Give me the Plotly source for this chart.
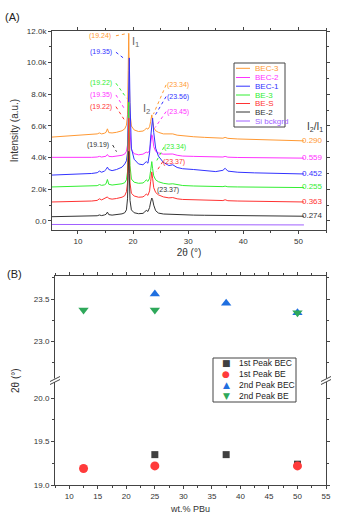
import plotly.graph_objects as go

# ---------------- Panel A data (XRD patterns, counts) ----------------
two_theta = [5.3, 7, 9, 11, 12.5, 13.5, 13.9, 14.3, 14.8, 15.1, 15.35, 15.6, 16.2, 17, 18, 18.5,
             18.8, 19.0, 19.12, 19.22, 19.32, 19.45, 19.7, 20.2, 21, 21.8, 22.1, 22.4, 22.7, 23.0,
             23.2, 23.4, 23.55, 23.75, 24.1, 24.6, 25.5, 26.5, 27.2, 28, 29, 31, 33, 35, 36.3,
             36.7, 37.2, 39, 42, 45, 48, 51]

bec3 = [5300, 5340, 5380, 5420, 5450, 5500, 5560, 5500, 5540, 5600, 5820, 5580, 5560, 5600, 5700, 5820,
        6050, 6700, 9500, 11850, 9000, 6800, 6000, 5750, 5650, 5680, 5750, 5850, 5800, 5950,
        6300, 6700, 6300, 5900, 5700, 5600, 5500, 5480, 5500, 5420, 5380, 5320, 5280, 5240, 5230,
        5280, 5220, 5180, 5140, 5110, 5080, 5060]
bec2 = [4020, 4010, 4000, 4010, 4020, 4040, 4080, 4040, 4060, 4090, 4200, 4080, 4060, 4080, 4150, 4230,
        4400, 4800, 6000, 6900, 7300, 5600, 4500, 4250, 4180, 4220, 4280, 4350, 4300, 4450,
        4900, 5450, 5300, 4700, 4400, 4300, 4220, 4200, 4230, 4150, 4100, 4080, 4060, 4040, 4040,
        4080, 4030, 4010, 4000, 3990, 3980, 3970]
bec1 = [2900, 2920, 2940, 2960, 3000, 3050, 3150, 3080, 3150, 3250, 3400, 3250, 3180, 3250, 3400, 3600,
        3800, 4300, 6500, 9000, 10300, 7500, 4600, 3900, 3600, 3550, 3650, 3750, 3650, 4300,
        5300, 6200, 6500, 5600, 4600, 4100, 3700, 3500, 3550, 3380, 3300, 3250, 3180, 3120, 3200,
        3330, 3150, 3080, 3040, 3010, 2990, 2970]
be3 = [2150, 2160, 2170, 2180, 2200, 2230, 2300, 2250, 2280, 2350, 2620, 2320, 2270, 2300, 2350, 2420,
       2600, 3100, 5500, 7500, 5800, 3500, 2650, 2450, 2380, 2400, 2480, 2600, 2500, 2700,
       3200, 3750, 3300, 2850, 2600, 2480, 2380, 2330, 2350, 2280, 2240, 2210, 2190, 2170, 2170,
       2200, 2160, 2150, 2140, 2130, 2120, 2110]
bes = [1200, 1210, 1220, 1240, 1260, 1300, 1400, 1330, 1400, 1450, 1520, 1420, 1380, 1420, 1500, 1600,
       1850, 2400, 4800, 6500, 4500, 2400, 1750, 1580, 1500, 1520, 1600, 1700, 1620, 1900,
       2500, 3100, 2700, 2100, 1800, 1650, 1520, 1460, 1480, 1400, 1360, 1330, 1300, 1280, 1290,
       1340, 1280, 1260, 1240, 1230, 1220, 1200]
be2 = [270, 280, 290, 300, 310, 330, 380, 340, 380, 420, 560, 400, 370, 390, 450, 520,
       700, 1400, 3500, 4400, 3000, 1300, 700, 520, 460, 480, 560, 680, 600, 850,
       1200, 1450, 1350, 1000, 650, 500, 440, 420, 450, 400, 380, 370, 360, 350, 350,
       380, 345, 340, 330, 320, 310, 300]
si_x = [5.3, 15, 25, 35, 51]
si_y = [-220, -230, -235, -240, -250]

series_names = ["BEC-3", "BEC-2", "BEC-1", "BE-3", "BE-S", "BE-2", "Si bckgrd"]
series_colors = ["#FF9933", "#FF33FF", "#3333FF", "#33EE33", "#FF3333", "#333333", "#A060FF"]
ratio_labels = ["0.290", "0.559", "0.452", "0.255", "0.363", "0.274"]

# peak label annotations: text, colour index, label x, label y, leader end x, leader end y, leader start x
peak1_labels = [("(19.24)", 0, 14.0, 11700, 19.05, 11850, 16.9),
                ("(19.35)", 2, 14.2, 10660, 18.3, 10280, 16.9),
                ("(19.22)", 3, 14.2, 8700, 18.85, 7750, 16.9),
                ("(19.35)", 1, 14.2, 7960, 18.6, 7000, 16.9),
                ("(19.22)", 4, 14.2, 7220, 18.4, 6400, 16.9),
                ("(19.19)", 5, 13.6, 4800, 17.0, 4380, 16.3)]
peak2_labels = [("(23.34)", 0, 28.1, 8600, 23.7, 6750, 26.0),
                ("(23.56)", 2, 28.1, 7860, 23.8, 6550, 26.0),
                ("(23.45)", 1, 28.1, 6910, 24.0, 5900, 26.0),
                ("(23.34)", 3, 27.6, 4660, 24.2, 3750, 25.6),
                ("(23.37)", 4, 27.4, 3750, 24.2, 3100, 25.4),
                ("(23.37)", 5, 26.3, 1960, None, None, None)]

# ---------------- Panel B data ----------------
peak1_bec_x = [25, 37.5, 50]
peak1_bec_y = [19.35, 19.35, 19.24]
peak1_be_x = [12.5, 25, 50]
peak1_be_y = [19.19, 19.22, 19.22]
peak2_bec_x = [25, 37.5, 50]
peak2_bec_y = [23.56, 23.45, 23.34]
peak2_be_x = [12.5, 25, 50]
peak2_be_y = [23.37, 23.37, 23.34]

FONT = "Liberation Sans, Arial, sans-serif"
W, H = 344, 527
ML, MR, MT, MB = 52, 18, 31, 42
PW, PH = W - ML - MR, H - MT - MB


def px(x):
    return (x - ML) / PW


def py(y):
    return (H - MB - y) / PH


fig = go.Figure()

ys = [bec3, bec2, bec1, be3, bes, be2]
for name, col, y in zip(series_names[:6], series_colors[:6], ys):
    fig.add_trace(go.Scatter(x=two_theta, y=y, mode="lines", name=name,
                             line=dict(color=col, width=1), xaxis="x", yaxis="y", showlegend=False))
fig.add_trace(go.Scatter(x=si_x, y=si_y, mode="lines", name=series_names[6],
                         line=dict(color=series_colors[6], width=1), xaxis="x", yaxis="y", showlegend=False))

# Panel B traces
fig.add_trace(go.Scatter(x=peak1_bec_x, y=peak1_bec_y, mode="markers", name="1st Peak BEC",
                         marker=dict(symbol="square", size=7, color="#404040"),
                         xaxis="x2", yaxis="y2", showlegend=False))
fig.add_trace(go.Scatter(x=peak1_be_x, y=peak1_be_y, mode="markers", name="1st Peak BE",
                         marker=dict(symbol="circle", size=9, color="#FF3B3B"),
                         xaxis="x2", yaxis="y2", showlegend=False))
fig.add_trace(go.Scatter(x=peak2_bec_x, y=peak2_bec_y, mode="markers", name="2nd Peak BEC",
                         marker=dict(symbol="triangle-up", size=9, color="#1F6FE0"),
                         xaxis="x3", yaxis="y3", showlegend=False))
fig.add_trace(go.Scatter(x=peak2_be_x, y=peak2_be_y, mode="markers", name="2nd Peak BE",
                         marker=dict(symbol="triangle-down", size=9, color="#2EA85A"),
                         xaxis="x3", yaxis="y3", showlegend=False))

ax_common = dict(showline=True, linecolor="#444", linewidth=1, ticks="outside", ticklen=3,
                 tickcolor="#444", showgrid=False, zeroline=False,
                 tickfont=dict(family=FONT, size=8, color="#333"))

domA = [py(230), 1.0]
domB_low = [0.0, py(380)]
domB_up = [py(380), py(276)]

fig.update_layout(
    width=W, height=H, margin=dict(l=ML, r=MR, t=MT, b=MB),
    paper_bgcolor="white", plot_bgcolor="white", showlegend=False,
    font=dict(family=FONT, color="#333"),
    xaxis=dict(**ax_common, domain=[0, 1], anchor="y", range=[5.3, 55], tickvals=[10, 20, 30, 40, 50],
               mirror="ticks", minor=dict(ticks="outside", dtick=5, tick0=0, ticklen=2, tickcolor="#444"),
               title=dict(text="2θ (°)", font=dict(family=FONT, size=10, color="#333"), standoff=4)),
    yaxis=dict(**ax_common, domain=domA, anchor="x", range=[-570, 12000],
               tickvals=[0, 2000, 4000, 6000, 8000, 10000, 12000],
               ticktext=["0.0", "2.0k", "4.0k", "6.0k", "8.0k", "10.0k", "12.0k"],
               mirror="ticks", minor=dict(ticks="outside", dtick=1000, tick0=0, ticklen=2, tickcolor="#444"),
               title=dict(text="Intensity (a.u.)", font=dict(family=FONT, size=10, color="#333"), standoff=6)),
    xaxis2=dict(**ax_common, domain=[px(55), 1], anchor="y2", range=[7.5, 55], dtick=5, tick0=0,
                minor=dict(ticks="outside", dtick=2.5, tick0=0, ticklen=2, tickcolor="#444"),
                title=dict(text="wt.% PBu", font=dict(family=FONT, size=9, color="#333"), standoff=6)),
    xaxis3=dict(**ax_common, domain=[px(55), 1], anchor="y3", side="top", range=[7.5, 55], dtick=5, tick0=0,
                showticklabels=False,
                minor=dict(ticks="outside", dtick=2.5, tick0=0, ticklen=2, tickcolor="#444")),
    yaxis2=dict(**ax_common, domain=domB_low, anchor="x2", range=[19.0, 20.21], tickvals=[19.0, 19.5, 20.0],
                ticktext=["19.0", "19.5", "20.0"], mirror="ticks",
                minor=dict(ticks="outside", dtick=0.25, tick0=0, ticklen=2, tickcolor="#444")),
    yaxis3=dict(**ax_common, domain=domB_up, anchor="x3", range=[22.55, 23.77], tickvals=[23.0, 23.5],
                ticktext=["23.0", "23.5"], mirror="ticks",
                minor=dict(ticks="outside", dtick=0.25, tick0=0, ticklen=2, tickcolor="#444")),
)

ann = []
shapes = []

# panel labels
ann.append(dict(text="(A)", x=px(12), y=py(17), xref="paper", yref="paper", showarrow=False,
                font=dict(family=FONT, size=11, color="#222"), xanchor="center", yanchor="middle"))
ann.append(dict(text="(B)", x=px(14), y=py(274), xref="paper", yref="paper", showarrow=False,
                font=dict(family=FONT, size=11, color="#222"), xanchor="center", yanchor="middle"))
# B y-axis title
ann.append(dict(text="2θ (°)", x=px(15), y=py(381), xref="paper", yref="paper", showarrow=False,
                textangle=-90, font=dict(family=FONT, size=10, color="#333"), xanchor="center", yanchor="middle"))

# peak labels + dotted leaders
for txt, ci, lx, ly, ex, ey, sx in peak1_labels + peak2_labels:
    col = series_colors[ci]
    ann.append(dict(text=txt, x=lx, y=ly, xref="x", yref="y", showarrow=False,
                    font=dict(family=FONT, size=7, color=col), xanchor="center", yanchor="middle"))
    if ex is not None:
        shapes.append(dict(type="line", xref="x", yref="y", x0=sx, y0=ly, x1=ex, y1=ey,
                           line=dict(color=col, width=1, dash="dot")))

ann.append(dict(text="I<sub>1</sub>", x=20.4, y=11300, xref="x", yref="y", showarrow=False,
                font=dict(family=FONT, size=11, color="#666"), xanchor="center", yanchor="middle"))
ann.append(dict(text="I<sub>2</sub>", x=22.5, y=7050, xref="x", yref="y", showarrow=False,
                font=dict(family=FONT, size=11, color="#666"), xanchor="center", yanchor="middle"))
ann.append(dict(text="I<sub>2</sub>/I<sub>1</sub>", x=53.0, y=5950, xref="x", yref="y", showarrow=False,
                font=dict(family=FONT, size=10, color="#333"), xanchor="center", yanchor="middle"))

# ratio labels at curve ends
for lab, col, y in zip(ratio_labels, series_colors[:6], ys):
    ann.append(dict(text=lab, x=54.8, y=y[-1] + 40, xref="x", yref="y", showarrow=False,
                    font=dict(family=FONT, size=8, color=col), xanchor="right", yanchor="middle"))

# manual legend A
shapes.append(dict(type="rect", xref="paper", yref="paper", x0=px(234), x1=px(285), y0=py(127), y1=py(63),
                   line=dict(color="#444", width=1), fillcolor="rgba(255,255,255,0)"))
leg_y = [68.3, 77.5, 86.2, 95, 103.5, 112, 121]
for name, col, yy in zip(series_names, series_colors, leg_y):
    shapes.append(dict(type="line", xref="paper", yref="paper", x0=px(236), x1=px(250), y0=py(yy), y1=py(yy),
                       line=dict(color=col, width=1)))
    ann.append(dict(text=name, x=px(253), y=py(yy), xref="paper", yref="paper", showarrow=False,
                    font=dict(family=FONT, size=8, color=col), xanchor="left", yanchor="middle"))

# manual legend B
shapes.append(dict(type="rect", xref="paper", yref="paper", x0=px(213), x1=px(296), y0=py(402), y1=py(358),
                   line=dict(color="#444", width=1), fillcolor="white", layer="above"))
legB = [("1st Peak BEC", "■", "#404040"), ("1st Peak BE", "●", "#FF3B3B"),
        ("2nd Peak BEC", "▲", "#1F6FE0"), ("2nd Peak BE", "▼", "#2EA85A")]
legB_y = [362.5, 373.5, 384.5, 395.5]
for (name, sym, col), yy in zip(legB, legB_y):
    ann.append(dict(text=sym, x=px(226), y=py(yy), xref="paper", yref="paper", showarrow=False,
                    font=dict(family="DejaVu Sans", size=9, color=col), xanchor="center", yanchor="middle"))
    ann.append(dict(text=name, x=px(237), y=py(yy), xref="paper", yref="paper", showarrow=False,
                    font=dict(family=FONT, size=8.5, color="#222"), xanchor="left", yanchor="middle"))

# axis break marks on panel B
for bx in (55, 326):
    shapes.append(dict(type="rect", xref="paper", yref="paper", x0=px(bx - 1.5), x1=px(bx + 1.5),
                       y0=py(382), y1=py(378.5), line=dict(width=0), fillcolor="white", layer="above"))
    shapes.append(dict(type="line", xref="paper", yref="paper", x0=px(bx - 5), x1=px(bx + 5),
                       y0=py(381.5), y1=py(376.5), line=dict(color="#444", width=1), layer="above"))
    shapes.append(dict(type="line", xref="paper", yref="paper", x0=px(bx - 5), x1=px(bx + 5),
                       y0=py(384.5), y1=py(379.5), line=dict(color="#444", width=1), layer="above"))

fig.update_layout(annotations=ann, shapes=shapes)
fig.write_html("out.html")
